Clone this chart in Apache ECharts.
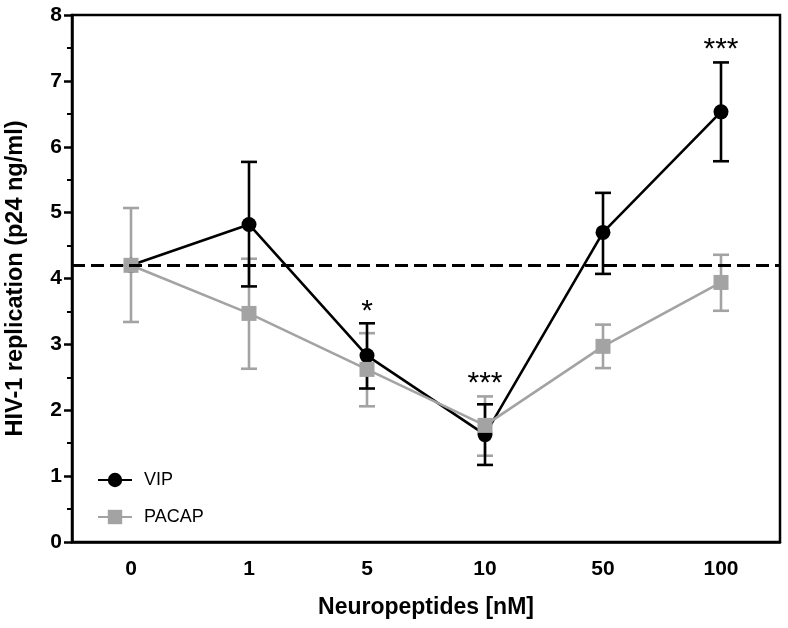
<!DOCTYPE html>
<html>
<head>
<meta charset="utf-8">
<script src="https://cdn.jsdelivr.net/npm/echarts@6/dist/echarts.min.js"></script>
<style>html,body{margin:0;padding:0;background:#fff}#c{width:788px;height:628px}</style>
</head>
<body>
<div id="c"></div>
<script>
// ---- data ----
var categories = ['0', '1', '5', '10', '50', '100'];
var vipMean = [4.20, 4.82, 2.83, 1.63, 4.70, 6.53];
var vipLow  = [null, 3.88, 2.33, 1.17, 4.07, 5.78];
var vipHigh = [null, 5.77, 3.32, 2.09, 5.30, 7.28];
var pacapMean = [4.20, 3.47, 2.62, 1.77, 2.97, 3.94];
var pacapLow  = [3.34, 2.63, 2.06, 1.31, 2.64, 3.51];
var pacapHigh = [5.07, 4.30, 3.17, 2.21, 3.30, 4.36];
var baseline = 4.2;
var annoCats = ['5', '10', '100'];
var annoValues = [3.50, 2.41, 7.48];
var annoTexts = ['*', '***', '***'];
var yTicks = [0, 1, 2, 3, 4, 5, 6, 7, 8];

var FONT = 'Liberation Sans, Arial, sans-serif';
var GRAY = '#a3a3a3';

function errData(lo, hi) {
  var out = [];
  for (var i = 0; i < categories.length; i++) {
    if (lo[i] != null && hi[i] != null) out.push([i, lo[i], hi[i]]);
  }
  return out;
}
function errRender(color) {
  return function (params, api) {
    var x = api.value(0);
    var lo = api.coord([x, api.value(1)]);
    var hi = api.coord([x, api.value(2)]);
    var hw = 8;
    var st = { stroke: color, lineWidth: 2.6 };
    return {
      type: 'group',
      children: [
        { type: 'line', shape: { x1: lo[0], y1: lo[1], x2: hi[0], y2: hi[1] }, style: st },
        { type: 'line', shape: { x1: lo[0] - hw, y1: lo[1], x2: lo[0] + hw, y2: lo[1] }, style: st },
        { type: 'line', shape: { x1: hi[0] - hw, y1: hi[1], x2: hi[0] + hw, y2: hi[1] }, style: st }
      ]
    };
  };
}
var annoData = annoCats.map(function (c, i) { return [categories.indexOf(c), annoValues[i], annoTexts[i]]; });

var chart = echarts.init(document.getElementById('c'));
chart.setOption({
  animation: false,
  backgroundColor: '#fff',
  grid: { left: 72, right: 8, top: 15, bottom: 86, containLabel: false, outerBoundsMode: 'none',
    show: true, borderColor: '#000', borderWidth: 2.5 },
  legend: {
    orient: 'vertical', left: 92, top: 466, itemWidth: 34, itemHeight: 18, itemGap: 19,
    textStyle: { fontFamily: FONT, fontSize: 18, color: '#000', padding: [0, 0, 0, 7] },
    data: ['VIP', 'PACAP']
  },
  xAxis: {
    type: 'category', data: categories, boundaryGap: true,
    name: 'Neuropeptides [nM]', nameLocation: 'middle', nameGap: 54,
    nameTextStyle: { fontFamily: FONT, fontWeight: 'bold', fontSize: 23, color: '#000' },
    axisLine: { lineStyle: { color: '#000', width: 2.5 } },
    axisTick: { alignWithLabel: true, length: 8, lineStyle: { color: '#000', width: 2.5 } },
    axisLabel: { fontFamily: FONT, fontWeight: 'bold', fontSize: 21, color: '#000', margin: 17 },
    splitLine: { show: false }
  },
  yAxis: {
    type: 'value', min: 0, max: 8, interval: 1,
    name: 'HIV-1 replication (p24 ng/ml)', nameLocation: 'middle', nameGap: 44,
    nameTextStyle: { fontFamily: FONT, fontWeight: 'bold', fontSize: 23.5, color: '#000' },
    axisLine: { show: true, lineStyle: { color: '#000', width: 2.5 } },
    axisTick: { show: true, length: 8, lineStyle: { color: '#000', width: 2.5 } },
    minorTick: { show: true, splitNumber: 2, length: 5, lineStyle: { color: '#000', width: 2 } },
    axisLabel: { fontFamily: FONT, fontWeight: 'bold', fontSize: 21, color: '#000', margin: 10,
      formatter: function (v) { return yTicks.indexOf(v) >= 0 ? String(v) : ''; } },
    splitLine: { show: false }
  },
  series: [
    { type: 'custom', name: 'PACAP err', renderItem: errRender(GRAY), data: errData(pacapLow, pacapHigh), z: 1, silent: true },
    { type: 'custom', name: 'VIP err', renderItem: errRender('#000'), data: errData(vipLow, vipHigh), z: 2, silent: true },
    {
      type: 'line', name: 'VIP', data: vipMean, z: 3,
      symbol: 'circle', symbolSize: 15, showAllSymbol: true,
      itemStyle: { color: '#000' }, lineStyle: { color: '#000', width: 2.6 },
      markLine: {
        silent: true, symbol: 'none', label: { show: false },
        lineStyle: { color: '#000', type: [13, 6], width: 2.8 },
        data: [{ yAxis: baseline }]
      }
    },
    {
      type: 'line', name: 'PACAP', data: pacapMean, z: 4,
      symbol: 'rect', symbolSize: 15, showAllSymbol: true,
      itemStyle: { color: GRAY }, lineStyle: { color: GRAY, width: 2.6 }
    },
    {
      type: 'custom', name: 'anno', data: annoData, z: 5, silent: true,
      renderItem: function (params, api) {
        var p = api.coord([api.value(0), api.value(1)]);
        return { type: 'text', x: p[0], y: p[1],
          style: { text: annoTexts[params.dataIndex], fontFamily: FONT, fontSize: 30, fill: '#000', align: 'center', verticalAlign: 'middle' } };
      }
    }
  ]
});
</script>
</body>
</html>
